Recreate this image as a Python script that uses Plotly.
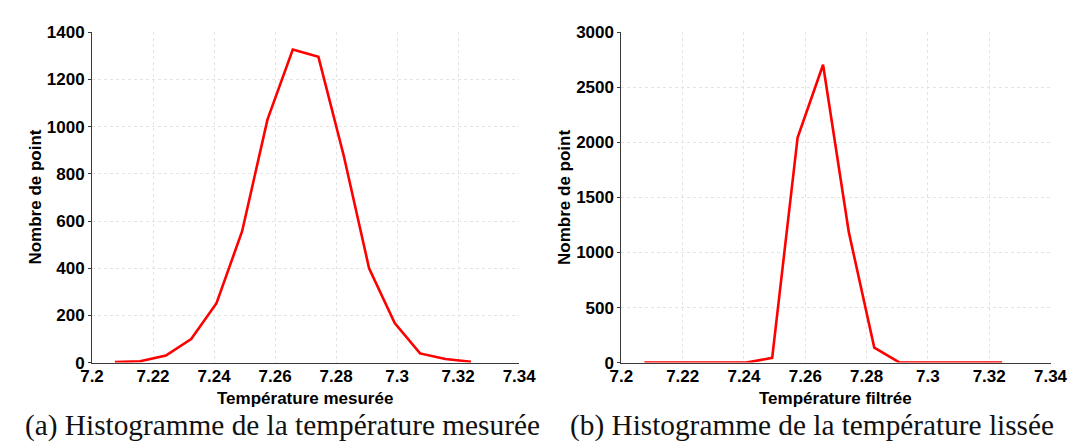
import plotly.graph_objects as go

# Bin centres (temperature)
temp_bins = [7.2075, 7.2158, 7.2242, 7.2325, 7.2408, 7.2492, 7.2575, 7.2658,
             7.2742, 7.2825, 7.2908, 7.2992, 7.3075, 7.3158, 7.3242]
# (a) measured temperature histogram counts
counts_mesuree = [2, 6, 30, 100, 252, 557, 1030, 1327, 1296, 877, 400, 168, 39, 15, 4]
# (b) smoothed temperature histogram counts
counts_filtree = [0, 0, 0, 0, 0, 43, 2045, 2705, 1185, 136, 0, 0, 0, 0, 0]

x_tickvals = [7.2, 7.22, 7.24, 7.26, 7.28, 7.3, 7.32, 7.34]
x_ticktext = ["7.2", "7.22", "7.24", "7.26", "7.28", "7.3", "7.32", "7.34"]
y1_tickvals = [0, 200, 400, 600, 800, 1000, 1200, 1400]
y2_tickvals = [0, 500, 1000, 1500, 2000, 2500, 3000]

xlabel_a = "Température mesurée"
xlabel_b = "Température filtrée"
ylabel = "Nombre de point"
caption_a = "(a) Histogramme de la température mesurée"
caption_b = "(b) Histogramme de la température lissée"

W, H = 1078, 446
SANS = "Liberation Sans, Arial, sans-serif"
tick_font = dict(family=SANS, size=17, color="black", weight="bold")
title_font = dict(family=SANS, size=17, color="black", weight="bold")

fig = go.Figure()
fig.add_trace(go.Scatter(x=temp_bins, y=counts_mesuree, mode="lines",
                         line=dict(color="#ff0000", width=2.6),
                         xaxis="x", yaxis="y", showlegend=False))
fig.add_trace(go.Scatter(x=temp_bins, y=counts_filtree, mode="lines",
                         line=dict(color="#ff0000", width=2.6),
                         xaxis="x2", yaxis="y2", showlegend=False))

x_dom1 = [74 / W, 513 / W]
x_dom2 = [618 / W, 1059 / W]
y_dom = [(H - 361) / H, (H - 16) / H]

common_x = dict(range=[7.2, 7.34], tickvals=x_tickvals, ticktext=x_ticktext,
                showgrid=True, gridcolor="#e4e4e4", griddash="dot", gridwidth=1,
                showline=True, linecolor="#3a3a3a", linewidth=1,
                ticks="", ticklabelstandoff=-2,
                tickfont=tick_font, zeroline=False, fixedrange=True)
common_y = dict(showgrid=True, gridcolor="#e4e4e4", griddash="dot", gridwidth=1,
                showline=True, linecolor="#3a3a3a", linewidth=1,
                ticks="outside", ticklen=3, tickcolor="#3a3a3a",
                tickfont=tick_font, zeroline=False, fixedrange=True)

fig.update_layout(
    width=W, height=H,
    margin=dict(l=0, r=0, t=0, b=0),
    paper_bgcolor="white", plot_bgcolor="white",
    xaxis=dict(domain=x_dom1, anchor="y", **common_x),
    yaxis=dict(domain=y_dom, anchor="x", range=[0, 1400], tickvals=y1_tickvals, **common_y),
    xaxis2=dict(domain=x_dom2, anchor="y2", **common_x),
    yaxis2=dict(domain=y_dom, anchor="x2", range=[0, 3000], tickvals=y2_tickvals, **common_y),
)

def add_text(text, x, y, font, angle=0):
    fig.add_annotation(text=text, xref="paper", yref="paper",
                       x=x / W, y=1 - y / H, xanchor="center", yanchor="middle",
                       showarrow=False, font=font, textangle=angle)

add_text(xlabel_a, 293, 398, title_font)
add_text(xlabel_b, 838, 398, title_font)
add_text(ylabel, 16, 188, title_font, angle=-90)
add_text(ylabel, 560, 188, title_font, angle=-90)

cap_font = dict(family="Liberation Serif, DejaVu Serif, serif", size=29.3, color="#111111")
add_text(caption_a, 270, 427, cap_font)
add_text(caption_b, 814, 427, cap_font)

fig.write_html("out.html")
